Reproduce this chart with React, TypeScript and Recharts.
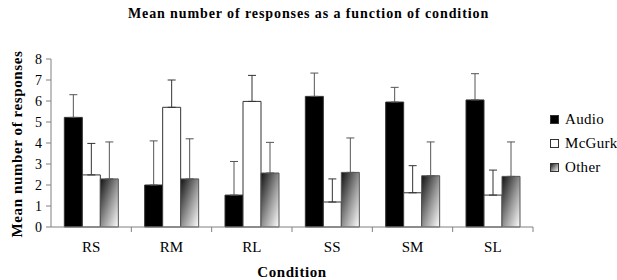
import { Bar, BarChart, ErrorBar, XAxis, YAxis } from "recharts";

const CONDITIONS = ["RS", "RM", "RL", "SS", "SM", "SL"];
const AUDIO = [5.22, 2.0, 1.52, 6.22, 5.95, 6.05];
const AUDIO_ERR = [1.08, 2.1, 1.6, 1.11, 0.7, 1.25];
const MCGURK = [2.48, 5.7, 5.98, 1.19, 1.63, 1.52];
const MCGURK_ERR = [1.5, 1.3, 1.24, 1.1, 1.29, 1.19];
const OTHER = [2.29, 2.29, 2.57, 2.6, 2.44, 2.41];
const OTHER_ERR = [1.76, 1.91, 1.46, 1.64, 1.61, 1.64];
const Y_TICKS = [0, 1, 2, 3, 4, 5, 6, 7, 8];

const SERIF = "Liberation Serif";
const AXIS_GREY = "#808080";
const PLOT_LEFT = 51;
const PLOT_RIGHT = 533;
const BAND = (PLOT_RIGHT - PLOT_LEFT) / CONDITIONS.length;

const rows = CONDITIONS.map((condition, i) => ({
  condition,
  audio: AUDIO[i],
  audioErr: [0, AUDIO_ERR[i]],
  mcgurk: MCGURK[i],
  mcgurkErr: [0, MCGURK_ERR[i]],
  other: OTHER[i],
  otherErr: [0, OTHER_ERR[i]],
}));

const LEGEND = [
  { label: "Audio", fill: "#000" },
  { label: "McGurk", fill: "#fff" },
  { label: "Other", fill: "url(#otherFill)" },
];

// x ticks in the original sit on the category boundaries, not the centres
function ConditionTick(props: any) {
  const { x, y, payload } = props;
  const edge = x + BAND / 2;
  return (
    <g>
      <line x1={edge} x2={edge} y1={y} y2={y + 5} stroke={AXIS_GREY} />
      <text x={x} y={y + 25} textAnchor="middle" style={{ fontFamily: SERIF }} fontSize={15} fill="#000">
        {payload.value}
      </text>
    </g>
  );
}

export default function App() {
  return (
    <div style={{ position: "absolute", left: 0, top: 0, width: 617, height: 280, background: "#fff", fontFamily: SERIF }}>
      <svg width={0} height={0} style={{ position: "absolute" }}>
        <defs>
          <linearGradient id="otherFill" x1="0" y1="0" x2="1" y2="1">
            <stop offset="0%" stopColor="#111" />
            <stop offset="55%" stopColor="#9a9a9a" />
            <stop offset="100%" stopColor="#fff" />
          </linearGradient>
        </defs>
      </svg>

      <div
        style={{
          position: "absolute",
          left: 0,
          width: 617,
          top: 6,
          textAlign: "center",
          fontWeight: "bold",
          fontSize: 14,
          letterSpacing: 0.9,
        }}
      >
        Mean number of responses as a function of condition
      </div>

      <BarChart
        width={617}
        height={280}
        data={rows}
        margin={{ top: 59, right: 617 - PLOT_RIGHT, bottom: 23, left: 21 }}
        barCategoryGap="16.6%"
        barGap={0}
        style={{ fontFamily: SERIF }}
      >
        <XAxis
          dataKey="condition"
          axisLine={{ stroke: AXIS_GREY }}
          tickLine={false}
          tickSize={0}
          tickMargin={0}
          height={30}
          interval={0}
          tick={<ConditionTick />}
        />
        <YAxis
          domain={[0, 8]}
          ticks={Y_TICKS}
          width={30}
          tickSize={5}
          tickMargin={4}
          axisLine={{ stroke: AXIS_GREY }}
          tickLine={{ stroke: AXIS_GREY }}
          tick={{ fontFamily: SERIF, fontSize: 14, fill: "#000" }}
        />
        <Bar dataKey="audio" fill="#000" stroke="#333" isAnimationActive={false}>
          <ErrorBar dataKey="audioErr" width={4} stroke="#555" strokeWidth={1} />
        </Bar>
        <Bar dataKey="mcgurk" fill="#fff" stroke="#333" isAnimationActive={false}>
          <ErrorBar dataKey="mcgurkErr" width={4} stroke="#333" strokeWidth={1} />
        </Bar>
        <Bar dataKey="other" fill="url(#otherFill)" stroke="#555" isAnimationActive={false}>
          <ErrorBar dataKey="otherErr" width={4} stroke="#555" strokeWidth={1} />
        </Bar>
      </BarChart>

      <div
        style={{
          position: "absolute",
          left: 17,
          top: 144,
          transform: "translate(-50%, -50%) rotate(-90deg)",
          whiteSpace: "nowrap",
          fontWeight: "bold",
          fontSize: 15,
          letterSpacing: 0.6,
        }}
      >
        Mean number of responses
      </div>

      <div
        style={{
          position: "absolute",
          left: 292,
          top: 272,
          transform: "translate(-50%, -50%)",
          fontWeight: "bold",
          fontSize: 15,
          letterSpacing: 0.6,
        }}
      >
        Condition
      </div>

      {LEGEND.map((item, i) => (
        <div
          key={item.label}
          style={{ position: "absolute", left: 550, top: 111 + i * 24, display: "flex", alignItems: "center", fontSize: 15, letterSpacing: 0.3 }}
        >
          <svg width={9} height={9} style={{ marginRight: 6 }}>
            <rect x={0.5} y={0.5} width={8} height={8} fill={item.fill} stroke="#333" />
          </svg>
          {item.label}
        </div>
      ))}
    </div>
  );
}
